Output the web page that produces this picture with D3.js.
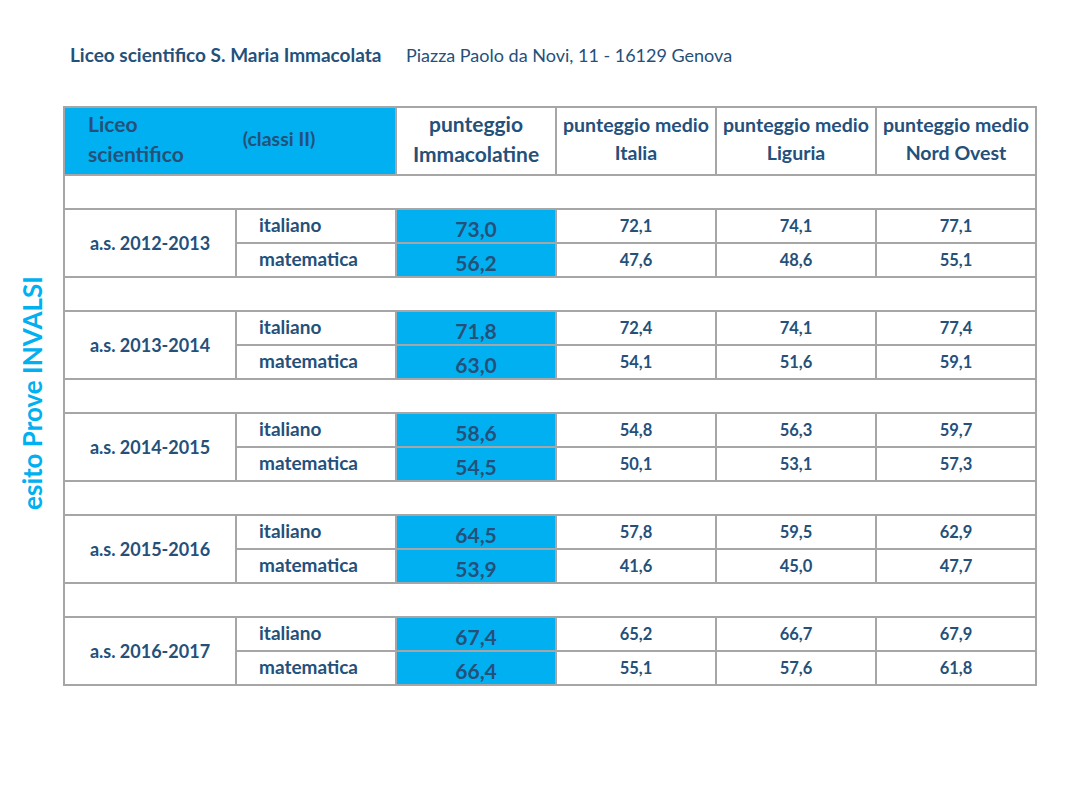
<!DOCTYPE html>
<html><head><meta charset="utf-8">
<script src="https://cdn.jsdelivr.net/npm/d3@7/dist/d3.min.js"></script>
<style>body{margin:0;background:#fff;} svg{display:block;font-family:Lato,"Open Sans",sans-serif;}</style>
</head><body>
<script>
const years = ["a.s. 2012-2013","a.s. 2013-2014","a.s. 2014-2015","a.s. 2015-2016","a.s. 2016-2017"];
const subjects = ["italiano","matematica"];
const columnHeaders = [["punteggio","Immacolatine"],["punteggio medio","Italia"],["punteggio medio","Liguria"],["punteggio medio","Nord Ovest"]];
const immacolatine = [[73.0,56.2],[71.8,63.0],[58.6,54.5],[64.5,53.9],[67.4,66.4]];
const italia = [[72.1,47.6],[72.4,54.1],[54.8,50.1],[57.8,41.6],[65.2,55.1]];
const liguria = [[74.1,48.6],[74.1,51.6],[56.3,53.1],[59.5,45.0],[66.7,57.6]];
const nordOvest = [[77.1,55.1],[77.4,59.1],[59.7,57.3],[62.9,47.7],[67.9,61.8]];

const W=1075,H=790;
const textCol="#24507a", cyan="#00b0f0", grid="#a6a6a6";
const fmt = v => d3.format(".1f")(v).replace(".", ",");

const svg=d3.select("body").append("svg").attr("width",W).attr("height",H);

const colEdges=[64,236,396,556,716,876,1036];
const colX = i => colEdges[i];
const rowH=34;
const y = d3.scaleLinear().domain([0,1]).range([175,175+rowH]);

// Title
svg.append("text").attr("x",70).attr("y",62).attr("font-weight",700).attr("font-size",19).attr("fill",textCol).text("Liceo scientifico S. Maria Immacolata");
svg.append("text").attr("x",406).attr("y",62).attr("font-size",18).attr("fill",textCol).text("Piazza Paolo da Novi, 11 - 16129 Genova");

// vertical label
svg.append("text").attr("transform","translate(42,393) rotate(-90)").attr("text-anchor","middle")
  .attr("font-weight",700).attr("font-size",26).attr("fill",cyan).text("esito Prove INVALSI");

const g=svg.append("g");
g.append("rect").attr("x",colX(0)).attr("y",107).attr("width",colX(2)-colX(0)).attr("height",68).attr("fill",cyan);
g.append("text").attr("x",88).attr("y",132).attr("font-weight",700).attr("font-size",21).attr("fill",textCol).text("Liceo");
g.append("text").attr("x",88).attr("y",162).attr("font-weight",700).attr("font-size",21).attr("fill",textCol).text("scientifico");
g.append("text").attr("x",279).attr("y",146).attr("text-anchor","middle").attr("font-weight",700).attr("font-size",19.5).attr("fill",textCol).text("(classi II)");

columnHeaders.forEach((h,i)=>{
  const cx=(colX(i+2)+colX(i+3))/2;
  const fs = i===0?21:19.5;
  g.append("text").attr("x",cx).attr("y",132).attr("text-anchor","middle").attr("font-weight",700).attr("font-size",fs).attr("fill",textCol).text(h[0]);
  g.append("text").attr("x",cx).attr("y",i===0?162:160).attr("text-anchor","middle").attr("font-weight",700).attr("font-size",fs).attr("fill",textCol).text(h[1]);
});

const others=[italia,liguria,nordOvest];
years.forEach((yr,gi)=>{
  const top=y(gi*3+1);
  g.append("text").attr("x",(colX(0)+colX(1))/2).attr("y",top+rowH+7).attr("text-anchor","middle").attr("font-weight",700).attr("font-size",18).attr("fill",textCol).text(yr);
  subjects.forEach((s,si)=>{
    const ry=y(gi*3+1+si);
    g.append("rect").attr("x",colX(2)).attr("y",ry).attr("width",colX(3)-colX(2)).attr("height",rowH).attr("fill",cyan);
    g.append("text").attr("x",259).attr("y",ry+23).attr("font-weight",700).attr("font-size",19).attr("fill",textCol).text(s);
    g.append("text").attr("x",(colX(2)+colX(3))/2).attr("y",ry+28).attr("text-anchor","middle").attr("font-weight",700).attr("font-size",21).attr("fill",textCol).text(fmt(immacolatine[gi][si]));
    others.forEach((arr,ci)=>{
      g.append("text").attr("x",(colX(ci+3)+colX(ci+4))/2).attr("y",ry+23).attr("text-anchor","middle").attr("font-weight",700).attr("font-size",16.5).attr("fill",textCol).text(fmt(arr[gi][si]));
    });
  });
});

const L=colX(0), R=colX(6);
const lines=[];
lines.push([L,107,R,107]);
lines.push([L,175,R,175]);
years.forEach((yr,gi)=>{
  const top=y(gi*3+1);
  lines.push([L,top,R,top]);
  lines.push([colX(1),top+rowH,R,top+rowH]);
  lines.push([L,top+2*rowH,R,top+2*rowH]);
  [1,2,3,4,5].forEach(c=>lines.push([colX(c),top,colX(c),top+2*rowH]));
});
[2,3,4,5].forEach(c=>lines.push([colX(c),107,colX(c),175]));
lines.push([L,107,L,y(15)]);
lines.push([R,107,R,y(15)]);
g.selectAll("line.grid").data(lines).enter().append("line")
  .attr("x1",d=>d[0]).attr("y1",d=>d[1]).attr("x2",d=>d[2]).attr("y2",d=>d[3])
  .attr("stroke",grid).attr("stroke-width",2).attr("stroke-linecap","square");
</script>
</body></html>
